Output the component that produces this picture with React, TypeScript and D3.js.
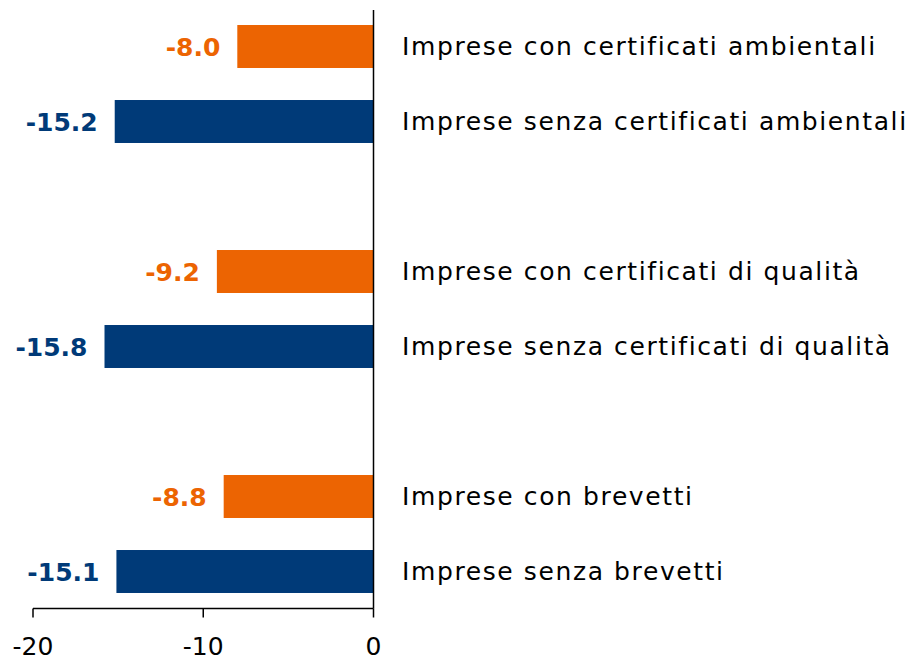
import React from "react";
import * as d3 from "d3";

const categories = [
  "Imprese con certificati ambientali",
  "Imprese senza certificati ambientali",
  "",
  "Imprese con certificati di qualità",
  "Imprese senza certificati di qualità",
  "",
  "Imprese con brevetti",
  "Imprese senza brevetti",
];
const values: (number | null)[] = [-8.0, -15.2, null, -9.2, -15.8, null, -8.8, -15.1];
const groupType = ["con", "senza", "", "con", "senza", "", "con", "senza"];
const xTicks = [-20, -10, 0];

const COLORS: Record<string, string> = { con: "#EC6402", senza: "#003A78" };
const FONT = "'DejaVu Sans', sans-serif";

export default function App() {
  const W = 907, H = 660;
  const x = d3.scaleLinear().domain([-20, 0]).range([33, 373.5]);
  const y = d3
    .scaleBand<string>()
    .domain(categories.map((_, i) => String(i)))
    .range([9, 609])
    .paddingInner(0.427)
    .paddingOuter(0.2135);
  const axisY = 608.5;

  return (
    <svg width={W} height={H} style={{ position: "absolute", left: 0, top: 0, background: "#fff" }}>
      {categories.map((c, i) => {
        const v = values[i];
        if (v === null) return null;
        const yy = y(String(i))!;
        const bw = y.bandwidth();
        const col = COLORS[groupType[i]];
        return (
          <g key={i}>
            <rect x={x(v)} y={yy} width={x(0) - x(v)} height={bw} fill={col} />
            <text
              x={x(v) - 17}
              y={yy + bw / 2 + 1}
              textAnchor="end"
              dominantBaseline="central"
              fontFamily={FONT}
              fontWeight="bold"
              fontSize={25}
              fill={col}
            >
              {v.toFixed(1)}
            </text>
            <text
              x={402}
              y={yy + bw / 2}
              dominantBaseline="central"
              fontFamily={FONT}
              fontSize={25}
              letterSpacing={1.6}
              fill="#000"
            >
              {c}
            </text>
          </g>
        );
      })}
      <line x1={x(0)} x2={x(0)} y1={10} y2={axisY} stroke="#000" strokeWidth={1.5} />
      <line x1={x(-20)} x2={x(0)} y1={axisY} y2={axisY} stroke="#000" strokeWidth={1.5} />
      {xTicks.map((t) => (
        <g key={t}>
          <line x1={x(t)} x2={x(t)} y1={axisY} y2={axisY + 9} stroke="#000" strokeWidth={1.5} />
          <text
            x={x(t)}
            y={655}
            textAnchor="middle"
            fontFamily={FONT}
            fontSize={25}
            fill="#000"
          >
            {t}
          </text>
        </g>
      ))}
    </svg>
  );
}
